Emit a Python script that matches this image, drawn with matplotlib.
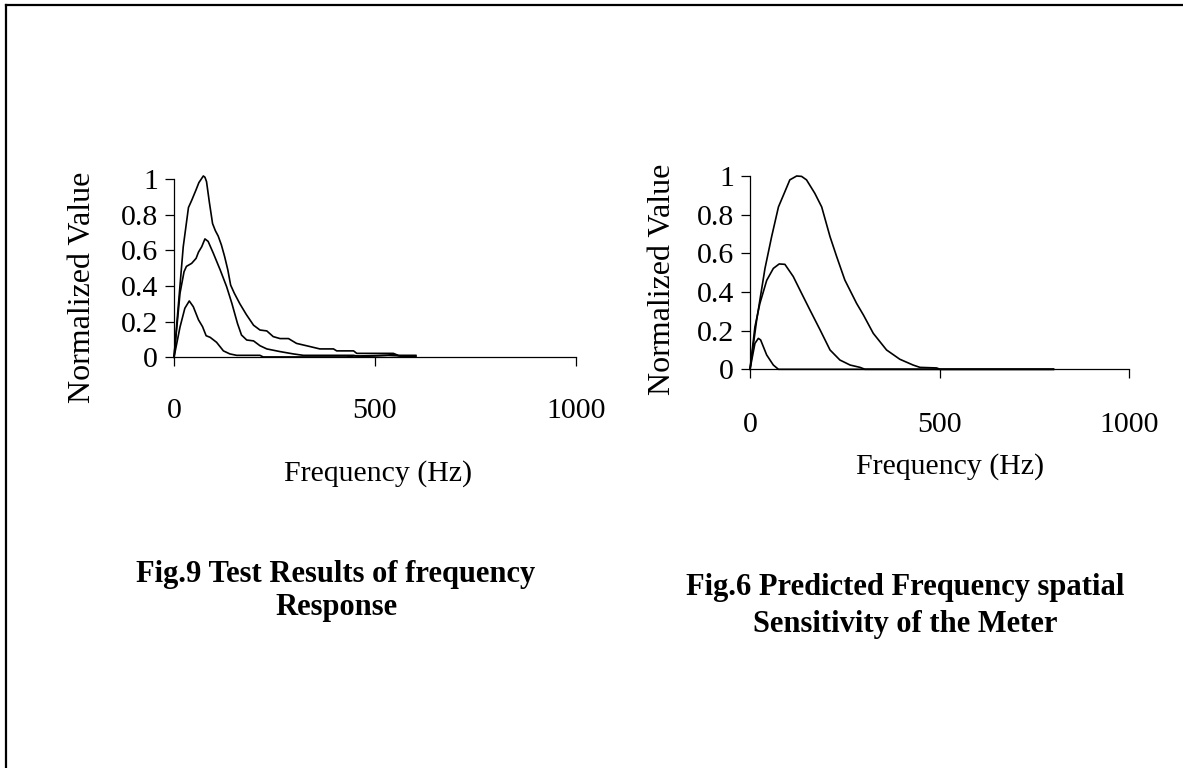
import matplotlib
matplotlib.use("Agg")
import matplotlib.pyplot as plt
from matplotlib.lines import Line2D

# ---------------- data ----------------
# Fig.9 : test results (three sensors)
test_hi_f = [0, 23, 36, 44, 55, 62, 68, 73, 77, 81, 88, 96, 103, 110, 118, 126, 134, 141, 150, 164, 180, 198, 214, 231, 247, 264, 285, 305, 339, 363, 397, 405, 447, 455, 546, 558, 602]
test_hi_v = [0, 0.62, 0.84, 0.88, 0.94, 0.98, 1.0, 1.017, 1.01, 0.985, 0.87, 0.75, 0.71, 0.68, 0.63, 0.565, 0.49, 0.405, 0.36, 0.30, 0.24, 0.18, 0.153, 0.148, 0.116, 0.105, 0.105, 0.078, 0.06, 0.047, 0.047, 0.036, 0.036, 0.022, 0.022, 0.011, 0.011]
test_mid_f = [0, 15, 25, 31, 44, 55, 61, 69, 77, 85, 98, 115, 131, 144, 158, 168, 181, 198, 214, 231, 264, 297, 322, 380, 447, 463, 530, 546, 563, 602]
test_mid_v = [0, 0.36, 0.48, 0.51, 0.527, 0.555, 0.59, 0.62, 0.664, 0.65, 0.583, 0.49, 0.396, 0.303, 0.19, 0.125, 0.097, 0.092, 0.065, 0.047, 0.032, 0.019, 0.011, 0.011, 0.011, 0.004, 0.011, 0.017, 0.007, 0.007]
test_lo_f = [0, 15, 27, 38, 48, 61, 71, 80, 90, 106, 123, 139, 156, 214, 222, 430, 447, 530, 602]
test_lo_v = [0, 0.17, 0.275, 0.316, 0.284, 0.21, 0.172, 0.121, 0.112, 0.084, 0.036, 0.019, 0.011, 0.011, 0.002, 0.002, 0.007, 0.011, 0.004]

# Fig.6 : predicted sensitivity
pred_hi_f = [0, 17.6, 39.5, 57, 75, 92, 105, 123, 136, 149, 171, 189, 211, 228.5, 250, 281, 299, 325, 360, 395, 430, 448, 492, 501, 800]
pred_hi_v = [0, 0.255, 0.522, 0.686, 0.84, 0.919, 0.98, 1.0, 0.998, 0.98, 0.91, 0.84, 0.686, 0.583, 0.462, 0.341, 0.281, 0.186, 0.10, 0.052, 0.022, 0.01, 0.007, 0, 0]
pred_mid_f = [0, 13, 26, 44, 61.5, 77, 92, 114, 136, 158, 185, 211, 237, 264, 290, 303, 800]
pred_mid_v = [0, 0.22, 0.34, 0.46, 0.522, 0.545, 0.543, 0.48, 0.393, 0.307, 0.203, 0.10, 0.048, 0.022, 0.01, 0, 0]
pred_lo_f = [0, 13, 22, 28, 44, 61.5, 75, 800]
pred_lo_v = [0, 0.134, 0.16, 0.152, 0.074, 0.022, 0, 0]

x_ticks = [0, 500, 1000]
x_ticklabels = ["0", "500", "1000"]
y_ticks = [0, 0.2, 0.4, 0.6, 0.8, 1.0]
y_ticklabels = ["0", "0.2", "0.4", "0.6", "0.8", "1"]

x_label = "Frequency (Hz)"
y_label = "Normalized Value"
title_left = ["Fig.9 Test Results of frequency", "Response"]
title_right = ["Fig.6 Predicted Frequency spatial", "Sensitivity of the Meter"]

# ---------------- figure ----------------
W, H = 1183, 768
plt.rcParams['font.family'] = ['Liberation Serif', 'DejaVu Serif']
fig = plt.figure(figsize=(W / 100, H / 100), dpi=100)
fig.patch.set_facecolor('white')


def rect(x0, y_top, x1, y_bot):
    return [x0 / W, 1 - y_bot / H, (x1 - x0) / W, (y_bot - y_top) / H]


def style(ax, xpad):
    ax.set_xlim(0, 1000)
    ax.set_ylim(0, 1)
    for s in ['top', 'right']:
        ax.spines[s].set_visible(False)
    for s in ['left', 'bottom']:
        ax.spines[s].set_linewidth(0.9)
        ax.spines[s].set_color('black')
    ax.set_xticks(x_ticks)
    ax.set_xticklabels(x_ticklabels)
    ax.set_yticks(y_ticks)
    ax.set_yticklabels(y_ticklabels)
    ax.tick_params(axis='both', direction='out', length=6.5, width=0.9,
                   labelsize=21.5, colors='black')
    ax.tick_params(axis='x', pad=xpad)
    ax.tick_params(axis='y', pad=5)
    ax.set_facecolor('none')


ax1 = fig.add_axes(rect(174, 179, 575.7, 357.3))
for f, v in [(test_hi_f, test_hi_v), (test_mid_f, test_mid_v), (test_lo_f, test_lo_v)]:
    ax1.plot(f, v, color='black', lw=1.2, clip_on=False)
style(ax1, 23)

ax2 = fig.add_axes(rect(750, 176, 1129.3, 369.3))
for f, v in [(pred_hi_f, pred_hi_v), (pred_mid_f, pred_mid_v), (pred_lo_f, pred_lo_v)]:
    ax2.plot(f, v, color='black', lw=1.2, clip_on=False)
style(ax2, 24)

# axis labels
fig.text(83 / W, 1 - 287 / H, y_label, rotation=90, ha='center', va='center', fontsize=23)
fig.text(662 / W, 1 - 279 / H, y_label, rotation=90, ha='center', va='center', fontsize=23)
fig.text(378 / W, 1 - 474 / H, x_label, ha='center', va='center', fontsize=21.5)
fig.text(950 / W, 1 - 467 / H, x_label, ha='center', va='center', fontsize=21.5)

# figure captions
fig.text(336 / W, 1 - 582 / H, title_left[0], ha='center', va='baseline', fontsize=22, fontweight='bold')
fig.text(336 / W, 1 - 615 / H, title_left[1], ha='center', va='baseline', fontsize=22, fontweight='bold')
fig.text(905 / W, 1 - 595 / H, title_right[0], ha='center', va='baseline', fontsize=22, fontweight='bold')
fig.text(905 / W, 1 - 632 / H, title_right[1], ha='center', va='baseline', fontsize=22, fontweight='bold')

# page frame (cropped at right and bottom)
fig.add_artist(Line2D([5.5 / W, 5.5 / W], [0, 1 - 5 / H], color='black', lw=1.6, transform=fig.transFigure))
fig.add_artist(Line2D([5.5 / W, 1], [1 - 5 / H, 1 - 5 / H], color='black', lw=1.6, transform=fig.transFigure))

fig.savefig('out.png', dpi=100, facecolor='white')
